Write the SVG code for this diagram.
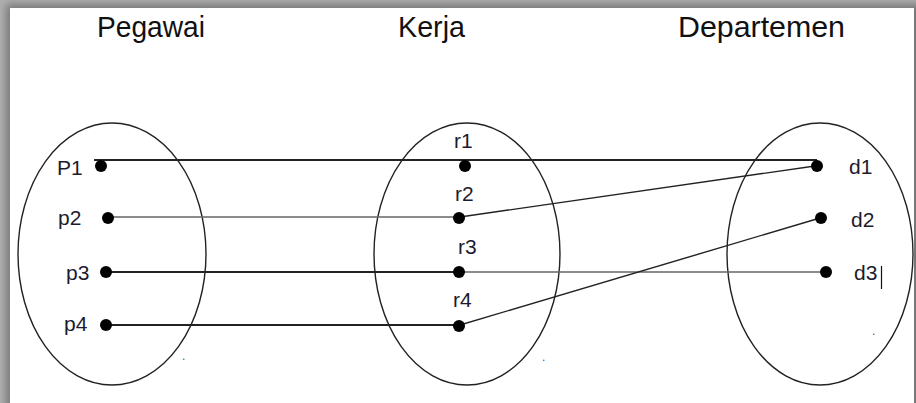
<svg xmlns="http://www.w3.org/2000/svg" width="916" height="403" viewBox="0 0 916 403">
<defs>
<filter id="sh" x="-5%" y="-5%" width="110%" height="110%">
<feGaussianBlur stdDeviation="4"/>
</filter>
<style>
.set{fill:none;stroke:#222;stroke-width:1.4}
.title{font-family:"Liberation Sans",Arial,sans-serif;font-size:29px;fill:#111}
.lbl{font-family:"Liberation Sans",Arial,sans-serif;font-size:21px;fill:#1c1c2e}
.dot{fill:#000}
.c{stroke:#222;stroke-width:1.8;fill:none}
.ct{stroke:#222;stroke-width:1.4;fill:none}
.cg{stroke:#666;stroke-width:1.6;fill:none}
.tiny{font-family:"Liberation Sans",Arial,sans-serif;font-size:12px;fill:#555}
</style>
</defs>
<rect x="0" y="0" width="916" height="403" fill="#b0b0b0"/>
<rect x="6" y="4" width="920" height="420" fill="#777" filter="url(#sh)"/>
<rect x="10" y="8" width="904" height="400" fill="#fff"/>

<g id="title-pegawai"><text class="title" x="97" y="37" textLength="108" lengthAdjust="spacingAndGlyphs">Pegawai</text></g>
<g id="title-kerja"><text class="title" x="398" y="37" textLength="67" lengthAdjust="spacingAndGlyphs">Kerja</text></g>
<g id="title-departemen"><text class="title" x="678" y="37" textLength="167" lengthAdjust="spacingAndGlyphs">Departemen</text></g>

<g id="set-pegawai"><ellipse class="set" cx="112" cy="254" rx="94" ry="131"/><text class="tiny" x="182" y="360">.</text></g>
<g id="set-kerja"><ellipse class="set" cx="467" cy="254" rx="93" ry="131"/><text class="tiny" x="542" y="361">.</text></g>
<g id="set-departemen"><ellipse class="set" cx="820" cy="254" rx="93" ry="131"/><text class="tiny" x="872" y="335">.</text></g>

<g id="connectors">
<line class="c" x1="94" y1="160" x2="817" y2="160"/>
<line class="cg" x1="107" y1="217" x2="458" y2="217"/>
<line class="c" x1="106" y1="272" x2="458" y2="272"/>
<line class="cg" x1="458" y1="272" x2="826" y2="272"/>
<line class="c" x1="106" y1="325" x2="458" y2="325"/>
<line class="ct" x1="460" y1="217" x2="815" y2="166"/>
<line class="ct" x1="460" y1="325" x2="820" y2="218"/>
</g>

<g id="node-P1"><circle class="dot" cx="101" cy="166" r="6"/><text class="lbl" x="57" y="175">P1</text></g>
<g id="node-p2"><circle class="dot" cx="108" cy="218" r="6"/><text class="lbl" x="58" y="225">p2</text></g>
<g id="node-p3"><circle class="dot" cx="106" cy="272" r="6"/><text class="lbl" x="66" y="280">p3</text></g>
<g id="node-p4"><circle class="dot" cx="106" cy="325" r="6"/><text class="lbl" x="64" y="331">p4</text></g>

<g id="node-r1"><circle class="dot" cx="465" cy="166" r="6"/><text class="lbl" x="454" y="148">r1</text></g>
<g id="node-r2"><circle class="dot" cx="459" cy="218" r="6"/><text class="lbl" x="455" y="201">r2</text></g>
<g id="node-r3"><circle class="dot" cx="459" cy="272" r="6"/><text class="lbl" x="458" y="254">r3</text></g>
<g id="node-r4"><circle class="dot" cx="459" cy="326" r="6"/><text class="lbl" x="453" y="307">r4</text></g>

<g id="node-d1"><circle class="dot" cx="817" cy="166" r="6"/><text class="lbl" x="849" y="174">d1</text></g>
<g id="node-d2"><circle class="dot" cx="821" cy="218" r="6"/><text class="lbl" x="851" y="227">d2</text></g>
<g id="node-d3"><circle class="dot" cx="826" cy="272" r="6"/><text class="lbl" x="854" y="280">d3</text><line x1="881.5" y1="266" x2="881.5" y2="289" stroke="#111" stroke-width="1.2"/></g>
</svg>
